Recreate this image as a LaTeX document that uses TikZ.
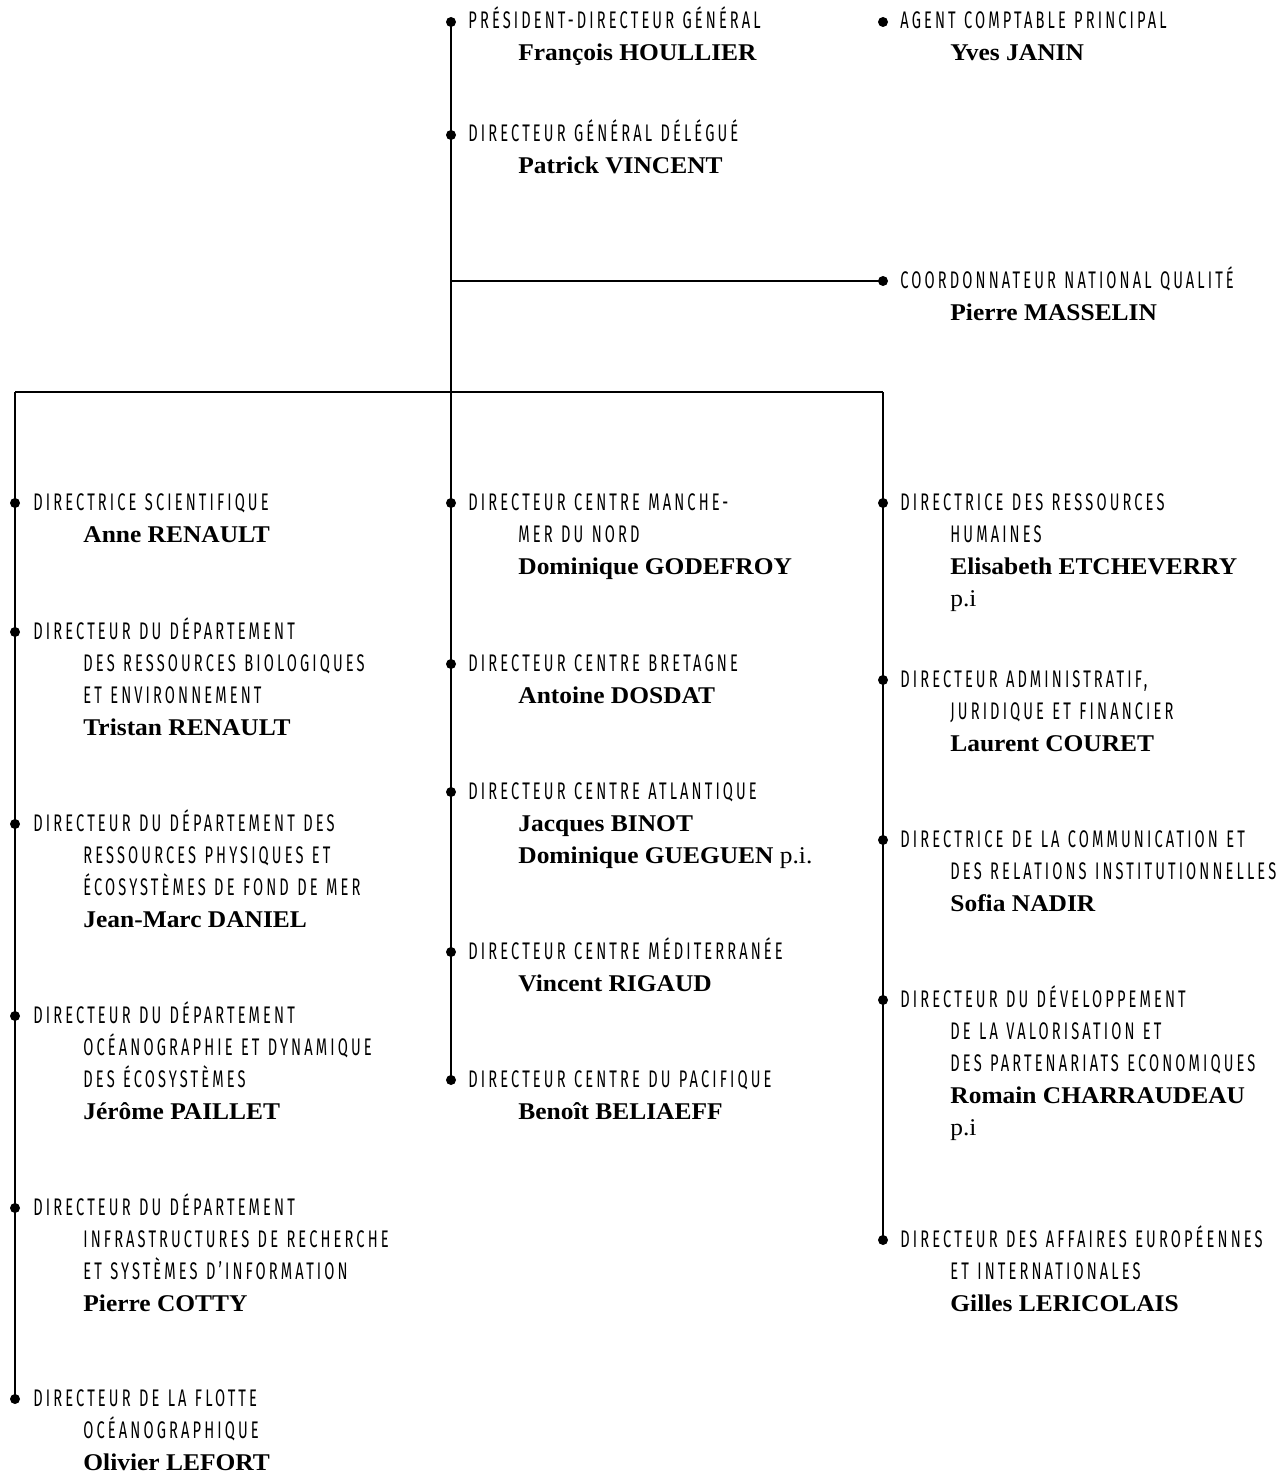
\documentclass[tikz,border=0pt]{standalone}
\usepackage{fontspec}
\setmainfont{Liberation Serif}
\newfontfamily\titlefont[FakeStretch=0.61,LetterSpace=13,WordSpace=1.2]{Fira Sans}
\newfontfamily\namefont[FakeStretch=1.06]{Liberation Serif}
\usetikzlibrary{positioning}

% lines of one entry: title, indented title, name, note
\newcommand\ttl[1]{\hbox{\titlefont\fontsize{24}{32}\selectfont #1}}
\newcommand\ttlin[1]{\hbox{\hspace*{50pt}\titlefont\fontsize{24}{32}\selectfont #1}}
\newcommand\nm[1]{\hbox{\hspace*{50pt}\namefont\bfseries\fontsize{24}{32}\selectfont #1}}
\newcommand\pinote[1]{\hbox{\hspace*{50pt}\namefont\fontsize{24}{32}\selectfont #1}}
\newcommand\orgbox[1]{\vtop{\baselineskip=32pt\lineskiplimit=-\maxdimen #1}}

\begin{document}
\begin{tikzpicture}[x=1pt,y=-1pt,line width=1.4pt,
  dot/.style={circle,fill,inner sep=0pt,minimum size=10pt},
  orgtext/.style={inner sep=0pt,anchor=base west,yshift=-7pt}]
\fill[white] (0,0) rectangle (1285,1474);
\useasboundingbox (0,0) rectangle (1285,1474);

% direction
\node[dot] (ps) at (451,22) {};
\node[dot] (dgd) at (451,135) {};
\node[dot] (acp) at (883,22) {};
\node[dot] (cnq) at (883,281) {};
\coordinate (jq) at (451,281);
\coordinate (jm) at (451,392);
\coordinate (jl) at (15,392);
\coordinate (jr) at (883,392);
\node[right=11pt of ps, orgtext] (psT) {\orgbox{\ttl{PRÉSIDENT-DIRECTEUR GÉNÉRAL}\nm{François HOULLIER}}};
\node[right=11pt of dgd, orgtext] (dgdT) {\orgbox{\ttl{DIRECTEUR GÉNÉRAL DÉLÉGUÉ}\nm{Patrick VINCENT}}};
\node[right=11pt of acp, orgtext] (acpT) {\orgbox{\ttl{AGENT COMPTABLE PRINCIPAL}\nm{Yves JANIN}}};
\node[right=11pt of cnq, orgtext] (cnqT) {\orgbox{\ttl{COORDONNATEUR NATIONAL QUALITÉ}\nm{Pierre MASSELIN}}};

% left column
\node[dot] (ds) at (15,503) {};
\node[dot] (drbe) at (15,632) {};
\node[dot] (drpe) at (15,824) {};
\node[dot] (ode) at (15,1016) {};
\node[dot] (iri) at (15,1208) {};
\node[dot] (fo) at (15,1399) {};
\node[right=12pt of ds, orgtext] (dsT) {\orgbox{\ttl{DIRECTRICE SCIENTIFIQUE}\nm{Anne RENAULT}}};
\node[right=12pt of drbe, orgtext] (drbeT) {\orgbox{\ttl{DIRECTEUR DU DÉPARTEMENT}\ttlin{DES RESSOURCES BIOLOGIQUES}\ttlin{ET ENVIRONNEMENT}\nm{Tristan RENAULT}}};
\node[right=12pt of drpe, orgtext] (drpeT) {\orgbox{\ttl{DIRECTEUR DU DÉPARTEMENT DES}\ttlin{RESSOURCES PHYSIQUES ET}\ttlin{ÉCOSYSTÈMES DE FOND DE MER}\nm{Jean-Marc DANIEL}}};
\node[right=12pt of ode, orgtext] (odeT) {\orgbox{\ttl{DIRECTEUR DU DÉPARTEMENT}\ttlin{OCÉANOGRAPHIE ET DYNAMIQUE}\ttlin{DES ÉCOSYSTÈMES}\nm{Jérôme PAILLET}}};
\node[right=12pt of iri, orgtext] (iriT) {\orgbox{\ttl{DIRECTEUR DU DÉPARTEMENT}\ttlin{INFRASTRUCTURES DE RECHERCHE}\ttlin{ET SYSTÈMES D’INFORMATION}\nm{Pierre COTTY}}};
\node[right=12pt of fo, orgtext] (foT) {\orgbox{\ttl{DIRECTEUR DE LA FLOTTE}\ttlin{OCÉANOGRAPHIQUE}\nm{Olivier LEFORT}}};

% middle column
\node[dot] (cmmn) at (451,503) {};
\node[dot] (cb) at (451,664) {};
\node[dot] (ca) at (451,792) {};
\node[dot] (cm) at (451,952) {};
\node[dot] (cp) at (451,1080) {};
\node[right=11pt of cmmn, orgtext] (cmmnT) {\orgbox{\ttl{DIRECTEUR CENTRE MANCHE-}\ttlin{MER DU NORD}\nm{Dominique GODEFROY}}};
\node[right=11pt of cb, orgtext] (cbT) {\orgbox{\ttl{DIRECTEUR CENTRE BRETAGNE}\nm{Antoine DOSDAT}}};
\node[right=11pt of ca, orgtext] (caT) {\orgbox{\ttl{DIRECTEUR CENTRE ATLANTIQUE}\nm{Jacques BINOT}\nm{Dominique GUEGUEN {\mdseries p.i.}}}};
\node[right=11pt of cm, orgtext] (cmT) {\orgbox{\ttl{DIRECTEUR CENTRE MÉDITERRANÉE}\nm{Vincent RIGAUD}}};
\node[right=11pt of cp, orgtext] (cpT) {\orgbox{\ttl{DIRECTEUR CENTRE DU PACIFIQUE}\nm{Benoît BELIAEFF}}};

% right column
\node[dot] (drh) at (883,503) {};
\node[dot] (dajf) at (883,680) {};
\node[dot] (dcri) at (883,840) {};
\node[dot] (dvpe) at (883,1000) {};
\node[dot] (daei) at (883,1240) {};
\node[right=11pt of drh, orgtext] (drhT) {\orgbox{\ttl{DIRECTRICE DES RESSOURCES}\ttlin{HUMAINES}\nm{Elisabeth ETCHEVERRY}\pinote{p.i}}};
\node[right=11pt of dajf, orgtext] (dajfT) {\orgbox{\ttl{DIRECTEUR ADMINISTRATIF,}\ttlin{JURIDIQUE ET FINANCIER}\nm{Laurent COURET}}};
\node[right=11pt of dcri, orgtext] (dcriT) {\orgbox{\ttl{DIRECTRICE DE LA COMMUNICATION ET}\ttlin{DES RELATIONS INSTITUTIONNELLES}\nm{Sofia NADIR}}};
\node[right=11pt of dvpe, orgtext] (dvpeT) {\orgbox{\ttl{DIRECTEUR DU DÉVELOPPEMENT}\ttlin{DE LA VALORISATION ET}\ttlin{DES PARTENARIATS ECONOMIQUES}\nm{Romain CHARRAUDEAU}\pinote{p.i}}};
\node[right=11pt of daei, orgtext] (daeiT) {\orgbox{\ttl{DIRECTEUR DES AFFAIRES EUROPÉENNES}\ttlin{ET INTERNATIONALES}\nm{Gilles LERICOLAIS}}};

% connectors
\draw (ps.center) -- (dgd.center) -- (jq) -- (jm) -- (cmmn.center) -- (cb.center) -- (ca.center) -- (cm.center) -- (cp.center);
\draw (jq) -- (cnq.center);
\draw (jl) -- (jr);
\draw (jl) -- (ds.center) -- (drbe.center) -- (drpe.center) -- (ode.center) -- (iri.center) -- (fo.center);
\draw (jr) -- (drh.center) -- (dajf.center) -- (dcri.center) -- (dvpe.center) -- (daei.center);
\end{tikzpicture}
\end{document}
